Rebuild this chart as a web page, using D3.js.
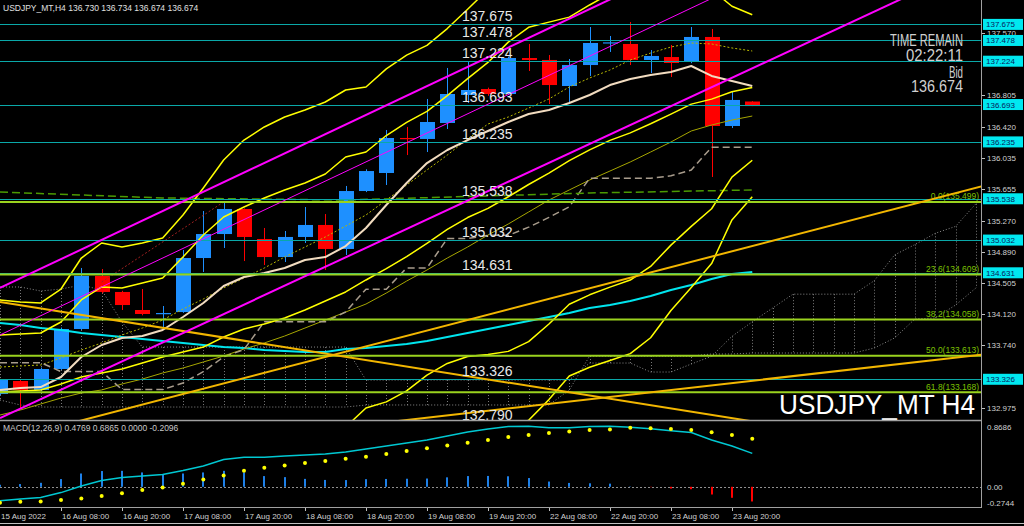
<!DOCTYPE html>
<html><head><meta charset="utf-8">
<script src="https://cdn.jsdelivr.net/npm/d3@7/dist/d3.min.js"></script>
<style>
html,body{margin:0;padding:0;background:#000;overflow:hidden}
svg{display:block}
text{font-family:"Liberation Sans",Arial,sans-serif}
</style></head><body>
<svg id="chart" width="1024" height="526"></svg>
<script>
// ================= DATA =================
const symbolHeader = "USDJPY_MT,H4  136.730 136.734 136.674 136.674";
const timeTickBars = [0,3,6,9,12,15,18,21,24,27,30,33,36];
const timeTickLabels = ["15 Aug 2022","16 Aug 08:00","16 Aug 20:00","17 Aug 08:00","17 Aug 20:00","18 Aug 08:00","18 Aug 20:00","19 Aug 08:00","19 Aug 20:00","22 Aug 08:00","22 Aug 20:00","23 Aug 08:00","23 Aug 20:00"];
const priceTicks = [137.570,136.805,136.420,136.035,135.655,135.270,134.890,134.505,134.120,133.740,132.975];

const openP  = [133.146,133.305,133.195,133.452,133.942,134.592,134.396,134.175,134.126,134.150,134.812,135.106,135.413,135.045,134.824,135.070,135.217,134.923,135.633,135.854,136.283,136.271,136.467,136.810,136.883,136.822,137.263,137.239,136.920,137.177,137.447,137.435,137.239,137.275,137.214,137.521,136.430,136.730];
const highP  = [133.330,133.320,133.470,133.960,134.690,134.677,134.410,134.432,134.224,134.910,135.388,135.486,135.420,135.180,135.143,135.437,135.351,135.695,135.900,136.381,136.418,136.761,137.141,137.226,136.900,137.280,137.435,137.300,137.251,137.643,137.533,137.704,137.361,137.423,137.643,137.619,136.847,136.734];
const lowP   = [133.130,132.962,133.180,133.440,133.930,134.380,134.175,134.110,133.930,134.140,134.641,134.935,134.775,134.726,134.763,134.996,134.665,134.849,135.620,135.707,136.074,136.111,136.393,136.712,136.800,136.810,137.104,136.699,136.724,137.043,137.337,137.177,137.079,137.030,137.200,135.805,136.405,136.674];
const closeP = [133.317,133.195,133.452,133.942,134.592,134.396,134.236,134.126,134.138,134.812,135.106,135.413,135.070,134.824,135.070,135.217,134.923,135.633,135.878,136.283,136.271,136.479,136.822,136.871,136.822,137.263,137.239,136.932,137.177,137.447,137.455,137.239,137.288,137.202,137.521,136.430,136.749,136.674];

// Bollinger (20) middle, +-2 and +-3 deviations (values read per bar)
const bbMid = [133.170,133.182,133.195,133.268,133.354,133.403,133.452,133.525,133.599,133.660,133.721,133.844,133.942,134.003,134.077,134.175,134.285,134.396,134.543,134.681,134.829,134.993,135.162,135.308,135.420,135.563,135.713,135.853,136.005,136.137,136.254,136.346,136.457,136.576,136.698,136.759,136.850,136.902];
const bbUp2 = [133.869,133.881,133.893,134.028,134.298,134.457,134.445,134.506,134.567,134.824,135.094,135.315,135.437,135.548,135.646,135.731,135.842,136.050,136.111,136.313,136.475,136.610,136.803,137.010,137.209,137.458,137.639,137.703,137.764,137.913,138.053,138.150,138.205,138.182,138.196,138.102,137.897,137.794];
const bbLo2 = [132.472,132.484,132.496,132.508,132.410,132.349,132.459,132.545,132.631,132.496,132.349,132.373,132.447,132.459,132.508,132.618,132.729,132.741,132.974,133.049,133.183,133.376,133.520,133.606,133.630,133.668,133.787,134.003,134.246,134.361,134.455,134.542,134.709,134.970,135.200,135.416,135.803,136.010];
const bbUp3 = [134.298,134.273,134.261,134.432,134.812,134.996,134.947,134.996,135.057,135.339,135.670,136.013,136.258,136.418,136.540,136.626,136.724,136.871,136.908,137.130,137.299,137.418,137.624,137.860,138.104,138.405,138.602,138.629,138.643,138.801,138.952,139.052,139.079,138.984,138.945,138.774,138.421,138.240];
const bbLo3 = [132.116,132.128,132.141,132.128,131.945,131.822,131.957,132.055,132.153,131.920,131.663,131.638,131.700,131.687,131.724,131.834,131.945,131.908,132.190,132.232,132.359,132.568,132.700,132.756,132.736,132.721,132.824,133.077,133.367,133.473,133.556,133.640,133.835,134.168,134.451,134.744,135.279,135.564];

const maWheat = [133.195,133.219,133.231,133.354,133.599,133.746,133.832,133.856,133.930,134.089,134.261,134.469,134.579,134.628,134.690,134.788,134.824,134.959,135.180,135.462,135.731,135.976,136.136,136.258,136.369,136.479,136.577,136.626,136.712,136.810,136.932,137.006,137.055,137.092,137.165,137.043,136.981,136.920];
const maCyan = [134.016,133.991,133.954,133.930,133.893,133.869,133.844,133.820,133.795,133.771,133.746,133.721,133.709,133.685,133.673,133.660,133.660,133.697,133.709,133.734,133.758,133.795,133.844,133.893,133.942,133.991,134.040,134.089,134.138,134.199,134.236,134.285,134.347,134.420,134.481,134.555,134.616,134.641];
const maOlive = [132.888,132.949,133.023,133.096,133.158,133.195,133.268,133.329,133.403,133.464,133.538,133.611,133.697,133.771,133.856,133.954,134.052,134.150,134.248,134.383,134.530,134.665,134.812,134.947,135.094,135.229,135.376,135.523,135.646,135.768,135.878,135.989,136.111,136.234,136.369,136.442,136.503,136.552];
const maOliveDot = [133.476,133.489,133.501,133.587,133.685,133.771,133.869,133.954,134.052,134.187,134.310,134.445,134.567,134.690,134.824,134.947,135.070,135.204,135.339,135.523,135.707,135.891,136.074,136.271,136.454,136.540,136.650,136.761,136.908,137.018,137.116,137.239,137.324,137.398,137.447,137.435,137.386,137.349];
const kijun = [133.53,133.53,133.53,133.42,133.42,133.42,133.20,133.20,133.20,133.28,133.42,133.60,133.69,134.03,134.03,134.03,134.03,134.15,134.43,134.43,134.69,134.69,135.05,135.05,135.09,135.09,135.19,135.31,135.44,135.79,135.79,135.79,135.79,135.82,135.89,136.17,136.17,136.17];
const greenDashPts = [[0,135.621],[4,135.584],[8,135.548],[17,135.523],[29,135.609],[37,135.646]];
const redDotPts = [[5,134.518],[11,135.499]];

// Ichimoku cloud edges, span A and span B (bars 0..48)
const cloudA = [134.457,134.457,134.408,134.432,134.481,134.420,134.028,133.721,133.721,133.721,133.721,133.721,133.721,133.721,133.721,133.721,133.721,133.721,133.317,133.317,133.317,133.317,133.317,133.317,133.317,133.317,133.317,133.317,133.317,133.525,133.525,133.525,133.415,133.415,133.513,133.608,133.852,134.030,134.199,134.369,134.369,134.369,134.369,134.534,134.850,134.977,135.115,135.200,135.477];
const cloudB = [133.072,133.011,132.986,132.986,132.986,132.986,132.986,132.986,132.986,132.986,132.986,132.986,132.986,132.986,132.986,132.986,132.986,132.986,133.011,133.011,133.011,133.011,133.011,133.011,133.011,133.011,133.011,133.011,133.195,133.611,133.611,133.611,133.611,133.611,133.611,133.636,133.636,133.648,133.648,133.648,133.648,133.648,133.648,133.709,133.832,134.065,134.077,134.236,134.445];

// horizontal levels & fibonacci
const levelPrices = [137.675,137.478,137.224,136.693,136.235,135.538,135.032,134.631,133.326,132.790];
const fibNames = ["0.0","23.6","38.2","50.0","61.8"];
const fibPrices = [135.499,134.609,134.058,133.613,133.168];

// trend lines [bar, price] pairs
const trendOrange = [
  [[0,134.273],[36,132.850]],
  [[0,132.562],[48.25,135.688]],
  [[15,132.685],[48.25,133.627]]
];
const trendMagenta = [
  {pts:[[0,134.445],[30,137.980]], w:2},
  {pts:[[0,133.869],[30,137.404]], w:1},
  {pts:[[0,132.851],[37,137.137]], w:2}
];

// MACD(12,26,9)
const macdMain = [-0.200,-0.176,-0.152,-0.083,0.010,0.089,0.132,0.153,0.175,0.232,0.296,0.389,0.421,0.421,0.439,0.453,0.468,0.496,0.539,0.582,0.625,0.668,0.725,0.783,0.825,0.860,0.865,0.845,0.845,0.860,0.865,0.850,0.830,0.800,0.775,0.668,0.582,0.4769];
const macdSignal = [-0.229,-0.215,-0.209,-0.190,-0.166,-0.133,-0.094,-0.047,-0.009,0.043,0.106,0.163,0.229,0.272,0.306,0.340,0.370,0.400,0.430,0.470,0.510,0.550,0.590,0.630,0.670,0.710,0.740,0.770,0.790,0.810,0.820,0.845,0.835,0.825,0.810,0.778,0.739,0.6865];
const macdHist = [0.029,0.039,0.057,0.110,0.190,0.225,0.228,0.205,0.182,0.190,0.205,0.228,0.205,0.153,0.138,0.113,0.098,0.096,0.109,0.112,0.115,0.118,0.135,0.153,0.155,0.150,0.125,0.075,0.055,0.050,0.045,0.005,-0.005,-0.025,-0.035,-0.110,-0.157,-0.2096];
const macdTicks = [0.8686,0.00,-0.2744];
const macdLabel = "MACD(12,26,9) 0.4769 0.6865 0.0000 -0.2096";

// ================= DRAW =================
const svg = d3.select('#chart');
svg.append('rect').attr('width',1024).attr('height',526).attr('fill','#000');
const defs = svg.append('defs');
defs.append('clipPath').attr('id','clipMain').append('rect').attr('x',0).attr('y',0).attr('width',981).attr('height',420);
defs.append('clipPath').attr('id','clipMacd').append('rect').attr('x',0).attr('y',421).attr('width',981).attr('height',86);

const x = d3.scaleLinear().domain([0,48.25]).range([0,981]);
const y = d3.scaleLinear().domain([132.827,137.974]).range([420,0]);
const ym = d3.scaleLinear().domain([-0.2744,0.8686]).range([506,426]);

const gMain = svg.append('g').attr('clip-path','url(#clipMain)');
const lineIdx = yS => d3.line().defined(d=>d!=null).x((d,i)=>x(i)).y(d=>yS(d));
const linePts = d3.line().x(d=>x(d[0])).y(d=>y(d[1]));
function drawSeries(g, vals, stroke, w, dash){
  g.append('path').datum(vals).attr('d',lineIdx(y)).attr('fill','none')
   .attr('stroke',stroke).attr('stroke-width',w).attr('stroke-dasharray',dash||null).attr('stroke-linejoin','round');
}
function extend(p, toBar){ // straight ray through two points up to bar toBar
  const [a,b]=p; const s=(b[1]-a[1])/(b[0]-a[0]);
  return [a,[toBar, a[1]+s*(toBar-a[0])]];
}

// Ichimoku cloud hatching
const gCloud = gMain.append('g');
cloudA.forEach((a,i)=>{
  gCloud.append('line').attr('x1',Math.round(x(i))+0.5).attr('x2',Math.round(x(i))+0.5)
    .attr('y1',y(a)).attr('y2',y(cloudB[i])).attr('stroke','#7a7a7a').attr('stroke-width',1).attr('stroke-dasharray','1,2');
});
[cloudA,cloudB].forEach(arr=>{
  gCloud.append('path').datum(arr).attr('d',lineIdx(y)).attr('fill','none')
    .attr('stroke','#8a8a8a').attr('stroke-width',1).attr('stroke-dasharray','1,2');
});

// candles
const gC = gMain.append('g');
openP.forEach((o,i)=>{
  const c=closeP[i], h=highP[i], l=lowP[i];
  const col = c>=o ? '#1e90ff' : '#ff0000';
  const cx = Math.round(x(i));
  gC.append('line').attr('x1',cx+0.5).attr('x2',cx+0.5).attr('y1',y(h)).attr('y2',y(l)).attr('stroke',col).attr('stroke-width',1);
  const top=y(Math.max(o,c)), bot=y(Math.min(o,c));
  gC.append('rect').attr('x',cx-7).attr('width',15).attr('y',top).attr('height',Math.max(1.2,bot-top)).attr('fill',col);
});

// indicators
drawSeries(gMain, maCyan, '#00e5ee', 2);
drawSeries(gMain, maOlive, '#a6a600', 1);
drawSeries(gMain, maOliveDot, '#b8b800', 1, '2,2');
drawSeries(gMain, kijun, '#a89c8c', 1.5, '7,4');
gMain.append('path').datum(greenDashPts).attr('d',linePts).attr('fill','none').attr('stroke','#4c9a00').attr('stroke-width',1.5).attr('stroke-dasharray','8,4');
gMain.append('path').datum(redDotPts).attr('d',linePts).attr('fill','none').attr('stroke','#a02020').attr('stroke-width',1).attr('stroke-dasharray','2,2');
drawSeries(gMain, maWheat, '#f2dcc0', 2);
[bbMid,bbUp2,bbLo2,bbUp3,bbLo3].forEach(s=>drawSeries(gMain, s, '#ffff00', 1.5));

// horizontal levels
levelPrices.forEach(p=>{
  gMain.append('line').attr('x1',0).attr('x2',981).attr('y1',Math.round(y(p))+0.5).attr('y2',Math.round(y(p))+0.5).attr('stroke','#0aa8a8').attr('stroke-width',1);
});
// fibonacci
fibPrices.forEach((p,k)=>{
  gMain.append('line').attr('x1',0).attr('x2',981).attr('y1',y(p)).attr('y2',y(p)).attr('stroke','#9ad21e').attr('stroke-width',2);
  gMain.append('text').attr('x',979).attr('y',y(p)-2.5).attr('text-anchor','end').attr('font-size',8.5).attr('fill','#7cc000').text(`${fibNames[k]}(${p.toFixed(3)})`);
});
// trend lines
trendOrange.forEach(t=>{
  gMain.append('path').datum(extend(t,48.5)).attr('d',linePts).attr('fill','none').attr('stroke','#f2b600').attr('stroke-width',2);
});
trendMagenta.forEach(t=>{
  gMain.append('path').datum(extend(t.pts,48.5)).attr('d',linePts).attr('fill','none').attr('stroke','#ff00ff').attr('stroke-width',t.w);
});
// level labels
levelPrices.forEach(p=>{
  gMain.append('text').attr('x',462).attr('y',y(p)-3).attr('font-size',14).attr('fill','#e8e8e8').text(p.toFixed(3));
});

// right-side texts
const info = [["TIME REMAIN",46,73],["02:22:11",61,57],["Bid",78,14],["136.674",92,52]];
info.forEach(([t,by,len])=>{
  svg.append('text').attr('x',963).attr('y',by).attr('text-anchor','end').attr('font-size',16).attr('fill','#d0d0d0')
    .attr('textLength',len).attr('lengthAdjust','spacingAndGlyphs').text(t);
});
svg.append('text').attr('x',779).attr('y',414).attr('font-size',27.5).attr('fill','#ffffff')
  .attr('textLength',196).attr('lengthAdjust','spacingAndGlyphs').text("USDJPY_MT H4");

// header
svg.append('text').attr('x',3).attr('y',11).attr('font-size',8.5).attr('fill','#e0e0e0').text(symbolHeader);

// ===== MACD panel =====
const gM = svg.append('g').attr('clip-path','url(#clipMacd)');
gM.append('line').attr('x1',0).attr('x2',981).attr('y1',Math.round(ym(0))+0.5).attr('y2',Math.round(ym(0))+0.5).attr('stroke','#909090').attr('stroke-dasharray','2,2');
macdHist.forEach((h,i)=>{
  const cx=Math.round(x(i));
  const y0=ym(0), y1=ym(h);
  gM.append('rect').attr('x',cx-1).attr('width',2).attr('y',Math.min(y0,y1)).attr('height',Math.abs(y1-y0)).attr('fill',h>=0?'#1e80e8':'#ff0000');
});
gM.append('path').datum(macdMain).attr('d',lineIdx(ym)).attr('fill','none').attr('stroke','#00c8d2').attr('stroke-width',1.5);
macdSignal.forEach((s,i)=>{
  gM.append('circle').attr('cx',x(i)).attr('cy',ym(s)).attr('r',2).attr('fill','#ffff00');
});
svg.append('text').attr('x',3).attr('y',431).attr('font-size',8.5).attr('fill','#c8c8c8').text(macdLabel);

// ===== frame =====
svg.append('line').attr('x1',0).attr('x2',981).attr('y1',420.5).attr('y2',420.5).attr('stroke','#a0a0a0').attr('stroke-width',1.5);
svg.append('line').attr('x1',0).attr('x2',981).attr('y1',507.5).attr('y2',507.5).attr('stroke','#a0a0a0').attr('stroke-width',1);
svg.append('line').attr('x1',981.5).attr('x2',981.5).attr('y1',0).attr('y2',508).attr('stroke','#a0a0a0').attr('stroke-width',1);
svg.append('line').attr('x1',0).attr('x2',1024).attr('y1',523.5).attr('y2',523.5).attr('stroke','#c0c0c0').attr('stroke-width',1);

// price axis
priceTicks.forEach(p=>{
  const yy=y(p);
  svg.append('line').attr('x1',982).attr('x2',985).attr('y1',Math.round(yy)+0.5).attr('y2',Math.round(yy)+0.5).attr('stroke','#c0c0c0');
  svg.append('text').attr('x',987).attr('y',yy+3).attr('font-size',8).attr('fill','#d0d0d0').text(p.toFixed(3));
});
levelPrices.forEach(p=>{
  const yy=y(p);
  if(yy>420) return;
  svg.append('rect').attr('x',983).attr('y',yy-5.5).attr('width',40).attr('height',11).attr('fill','#00e8f0');
  svg.append('text').attr('x',986).attr('y',yy+3).attr('font-size',8).attr('fill','#08205a').text(p.toFixed(3));
});
// macd axis
macdTicks.forEach(v=>{
  const yy = Math.min(503, Math.max(427, ym(v)));
  svg.append('text').attr('x',987).attr('y',yy+3).attr('font-size',8).attr('fill','#d0d0d0').text(v===0?"0.00":v.toFixed(4));
});

// time axis
timeTickBars.forEach((b,k)=>{
  const tx=Math.round(x(b));
  if(k>0) svg.append('line').attr('x1',tx+0.5).attr('x2',tx+0.5).attr('y1',508).attr('y2',511).attr('stroke','#c0c0c0');
  svg.append('text').attr('x',k===0?1:tx+1).attr('y',519).attr('font-size',8).attr('fill','#d0d0d0').text(timeTickLabels[k]);
});
</script>
</body></html>
